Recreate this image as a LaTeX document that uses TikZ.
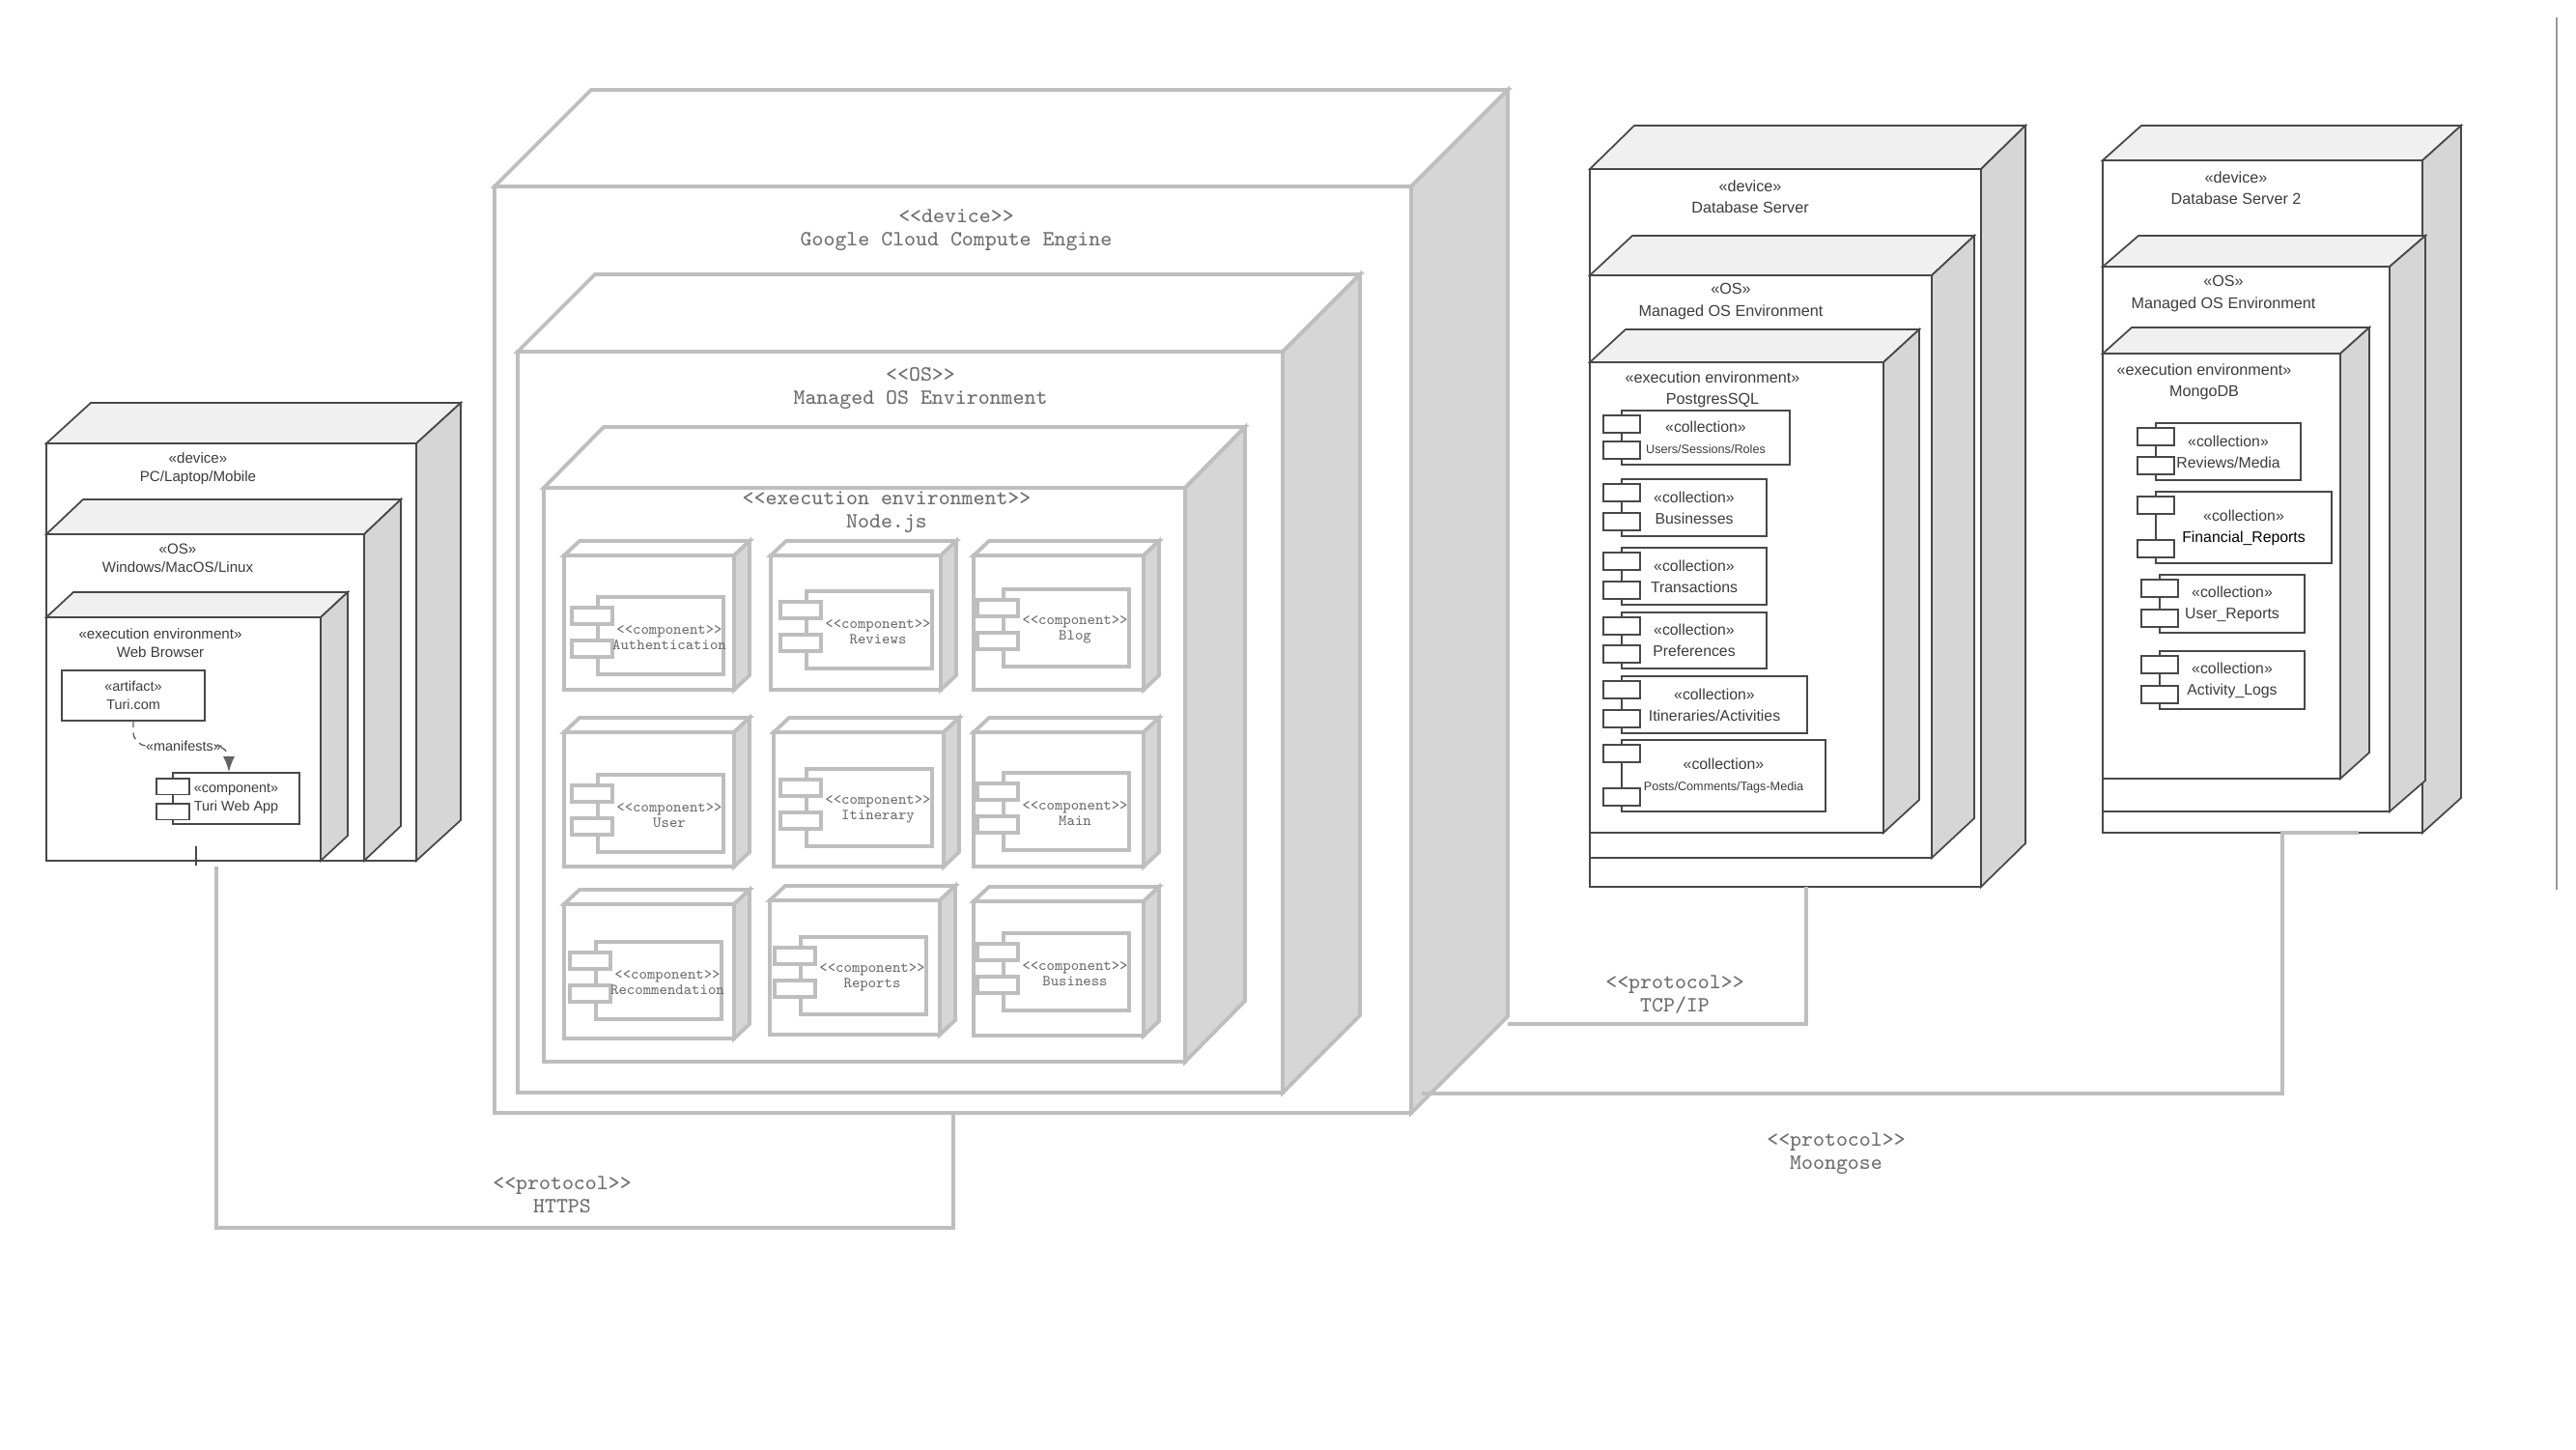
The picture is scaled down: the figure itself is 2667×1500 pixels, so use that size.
\documentclass[tikz,border=0pt]{standalone}
\usepackage{fontspec}
\usetikzlibrary{calc,arrows.meta}
\newfontfamily\panelfont{Liberation Sans}
\newcommand\codefont{\ttfamily}
\definecolor{edgedark}{HTML}{484848}
\definecolor{edgegray}{HTML}{BEBEBE}
\definecolor{topgray}{HTML}{F0F0F0}
\definecolor{sidegray}{HTML}{D6D6D6}
\definecolor{textgray}{HTML}{6E6E6E}
\definecolor{textdark}{HTML}{3C3C3C}
\newcommand\tinysans{\fontsize{3.6}{5.4}\selectfont}
\newcommand\nodebox[9]{%
  \node[#2, minimum width = #6*0.01cm, minimum height = #7*0.01cm] (#1) at (#4, #5) {};
  \draw[#2, fill = #3] (#1.north west) -- ++(#8, #9) -- ++(#6, 0) -- (#1.north east) -- cycle;
  \draw[#2, fill = sidegray] (#1.north east) -- ++(#8, #9) -- ++(0, #7) -- (#1.south east) -- cycle;
}
\newcommand\gcomp[4]{%
  \node[gbody] (#1) at (#2, #3) {};
  \node[gport] (#1a) at ($(#1.north west) + (-27, 11)$) {};
  \node[gport] (#1b) at ($(#1.north west) + (-27, 45)$) {};
  \node[gcmp] (#1t) at ($(#1.north west) + (74, 42)$) {<<component>>\\#4};
}
\newcommand\coll[6]{%
  \node[dbody, minimum width = #4*0.01cm, minimum height = #5*0.01cm] (#1) at (#2, #3) {#6};
  \node[dport] (#1a) at ($(#1.north west) + (-19, 5)$) {};
  \node[dport] (#1b) at ($(#1.south west) + (-19, -24)$) {};
}
\begin{document}
\begin{tikzpicture}[x = 0.01cm, y = -0.01cm,
    panel/.style = {draw = edgedark, line width = 0.5pt, fill = white,
                    anchor = north west, inner sep = 0, outer sep = 0},
    gbox/.style = {draw = edgegray, line width = 1.1pt, fill = white,
                   anchor = north west, inner sep = 0, outer sep = 0},
    gbody/.style = {gbox, minimum width = 1.3cm, minimum height = 0.8cm},
    gport/.style = {gbox, minimum width = 0.42cm, minimum height = 0.17cm},
    dbody/.style = {panel, align = center, text = textdark,
                    font = \panelfont\fontsize{4.5}{6.3}\selectfont},
    dport/.style = {panel, minimum width = 0.38cm, minimum height = 0.18cm},
    pbody/.style = {panel, align = center, text = textdark,
                    font = \panelfont\fontsize{4.1}{5.4}\selectfont},
    pport/.style = {panel, minimum width = 0.34cm, minimum height = 0.165cm},
    ptext/.style = {align = center, inner sep = 0, text = textdark,
                    font = \panelfont\fontsize{4.3}{5.4}\selectfont},
    psmall/.style = {ptext, font = \panelfont\fontsize{4.1}{5.4}\selectfont},
    dtext/.style = {align = center, inner sep = 0, text = textdark,
                    font = \panelfont\fontsize{4.6}{6.3}\selectfont},
    gtext/.style = {align = center, inner sep = 0, text = textgray,
                    font = \codefont\fontsize{6.4}{6.8}\selectfont},
    gcmp/.style = {align = center, inner sep = 0, text = textgray,
                   font = \codefont\fontsize{4.5}{4.6}\selectfont},
    link/.style = {draw = edgegray, line width = 1.1pt},
    dep/.style = {draw = edgedark!85, line width = 0.4pt,
                  dash pattern = on 2pt off 1.6pt, rounded corners = 4pt}]
  \useasboundingbox (0, 0) rectangle (2667, 1500);

  \nodebox{pcdev}{panel}{topgray}{48}{459}{383}{432}{46}{-42}
  \node[ptext] (pcdevlbl) at (205, 485) {«device»\\PC/Laptop/Mobile};
  \nodebox{pcos}{panel}{topgray}{48}{553}{329}{338}{38}{-36}
  \node[ptext] (pcoslbl) at (184, 578) {«OS»\\Windows/MacOS/Linux};
  \nodebox{pcenv}{panel}{topgray}{48}{639}{284}{252}{28}{-26}
  \node[ptext] (pcenvlbl) at (166, 666) {«execution environment»\\Web Browser};
  \node[pbody, minimum width = 1.48cm, minimum height = 0.52cm] (turi) at (64, 694) {«artifact»\\Turi.com};
  \node[pbody, minimum width = 1.31cm, minimum height = 0.53cm] (webapp) at (179, 800) {«component»\\Turi Web App};
  \node[pport] (webappa) at ($(webapp.north west) + (-17, 6)$) {};
  \node[pport] (webappb) at ($(webapp.north west) + (-17, 32)$) {};
  \node[psmall] (manlbl) at (190, 772) {«manifests»};
  \draw[dep] (turi.south) |- (manlbl.west);
  \draw[dep, -{Latex[length = 4.5pt, width = 3.4pt]}] (manlbl.east) -| ($(webapp.north west) + (58, -1)$);
  \draw[draw = edgedark, line width = 0.5pt] ($(pcdev.south west) + (155, -15)$) -- ++(0, 20);

  \nodebox{gce}{gbox}{white}{512}{193}{949}{959}{100}{-100}
  \node[gtext] (gcelbl) at (990, 238) {<<device>>\\Google Cloud Compute Engine};
  \nodebox{gceos}{gbox}{white}{536}{364}{792}{767}{80}{-80}
  \node[gtext] (gceoslbl) at (953, 402) {<<OS>>\\Managed OS Environment};
  \nodebox{gceenv}{gbox}{white}{563}{505}{664}{594}{62}{-63}
  \node[gtext] (gceenvlbl) at (918, 530) {<<execution environment>>\\Node.js};

  \nodebox{auth}{gbox}{white}{584}{575}{176}{139}{16}{-15}
  \gcomp{authc}{619}{618}{Authentication}
  \nodebox{reviews}{gbox}{white}{798}{575}{176}{139}{16}{-15}
  \gcomp{reviewsc}{835}{612}{Reviews}
  \nodebox{blog}{gbox}{white}{1008}{575}{176}{139}{16}{-15}
  \gcomp{blogc}{1039}{610}{Blog}
  \nodebox{user}{gbox}{white}{584}{758}{176}{139}{16}{-15}
  \gcomp{userc}{619}{802}{User}
  \nodebox{itin}{gbox}{white}{801}{758}{176}{139}{16}{-15}
  \gcomp{itinc}{835}{796}{Itinerary}
  \nodebox{main}{gbox}{white}{1008}{758}{176}{139}{16}{-15}
  \gcomp{mainc}{1039}{800}{Main}
  \nodebox{recom}{gbox}{white}{584}{936}{176}{139}{16}{-15}
  \gcomp{recomc}{617}{975}{Recommendation}
  \nodebox{reports}{gbox}{white}{797}{932}{176}{139}{16}{-15}
  \gcomp{reportsc}{829}{970}{Reports}
  \nodebox{business}{gbox}{white}{1008}{933}{176}{139}{16}{-15}
  \gcomp{businessc}{1039}{966}{Business}

  \nodebox{db1dev}{panel}{topgray}{1646}{175}{405}{743}{46}{-45}
  \node[dtext] (db1devlbl) at (1812, 204) {«device»\\Database Server};
  \nodebox{db1os}{panel}{topgray}{1646}{285}{354}{603}{44}{-41}
  \node[dtext] (db1oslbl) at (1792, 312) {«OS»\\Managed OS Environment};
  \nodebox{db1env}{panel}{topgray}{1646}{375}{304}{487}{37}{-34}
  \node[dtext] (db1envlbl) at (1773, 403) {«execution environment»\\PostgresSQL};
  \coll{users}{1679}{425}{174}{56}{«collection»\\{\tinysans Users/Sessions/Roles}}
  \coll{businesses}{1679}{496}{150}{59}{«collection»\\Businesses}
  \coll{transactions}{1679}{567}{150}{59}{«collection»\\Transactions}
  \coll{preferences}{1679}{634}{150}{58}{«collection»\\Preferences}
  \coll{itineraries}{1679}{700}{192}{59}{«collection»\\Itineraries/Activities}
  \coll{posts}{1679}{766}{211}{74}{«collection»\\{\tinysans Posts/Comments/Tags-Media}}

  \nodebox{db2dev}{panel}{topgray}{2177}{166}{331}{696}{40}{-36}
  \node[dtext] (db2devlbl) at (2315, 195) {«device»\\Database Server 2};
  \nodebox{db2os}{panel}{topgray}{2177}{276}{297}{564}{37}{-32}
  \node[dtext] (db2oslbl) at (2302, 304) {«OS»\\Managed OS Environment};
  \nodebox{db2env}{panel}{topgray}{2177}{366}{246}{440}{30}{-27}
  \node[dtext] (db2envlbl) at (2282, 395) {«execution environment»\\MongoDB};
  \coll{media}{2232}{438}{150}{59}{«collection»\\Reviews/Media}
  \coll{finance}{2232}{509}{182}{74}{«collection»\\\textcolor{black}{Financial\_Reports}}
  \coll{userrep}{2236}{595}{150}{60}{«collection»\\User\_Reports}
  \coll{activity}{2236}{674}{150}{60}{«collection»\\Activity\_Logs}

  \coordinate (httpsA) at ($(pcdev.south west) + (176, 6)$);
  \coordinate (httpsB) at ($(gce.south west) + (475, 0)$);
  \draw[link] (httpsA) -- ++(0, 374) -| (httpsB);
  \node[gtext] (httpslbl) at (582, 1237) {<<protocol>>\\HTTPS};

  \coordinate (tcpA) at ($(gce.south east) + (100, -92)$);
  \coordinate (tcpB) at ($(db1dev.south west) + (224, 0)$);
  \draw[link] (tcpA) -| (tcpB);
  \node[gtext] (tcplbl) at (1734, 1030) {<<protocol>>\\TCP/IP};

  \coordinate (mgA) at ($(gce.south east) + (11, -20)$);
  \coordinate (mgB) at ($(db2dev.south west) + (186, 0)$);
  \coordinate (mgC) at ($(db2dev.south west) + (265, 0)$);
  \draw[link] (mgA) -| (mgB) -- (mgC);
  \node[gtext] (mglbl) at (1901, 1194) {<<protocol>>\\Moongose};

  \draw[draw = black!40, line width = 0.5pt] (2647, 18) -- (2647, 921);
\end{tikzpicture}
\end{document}
